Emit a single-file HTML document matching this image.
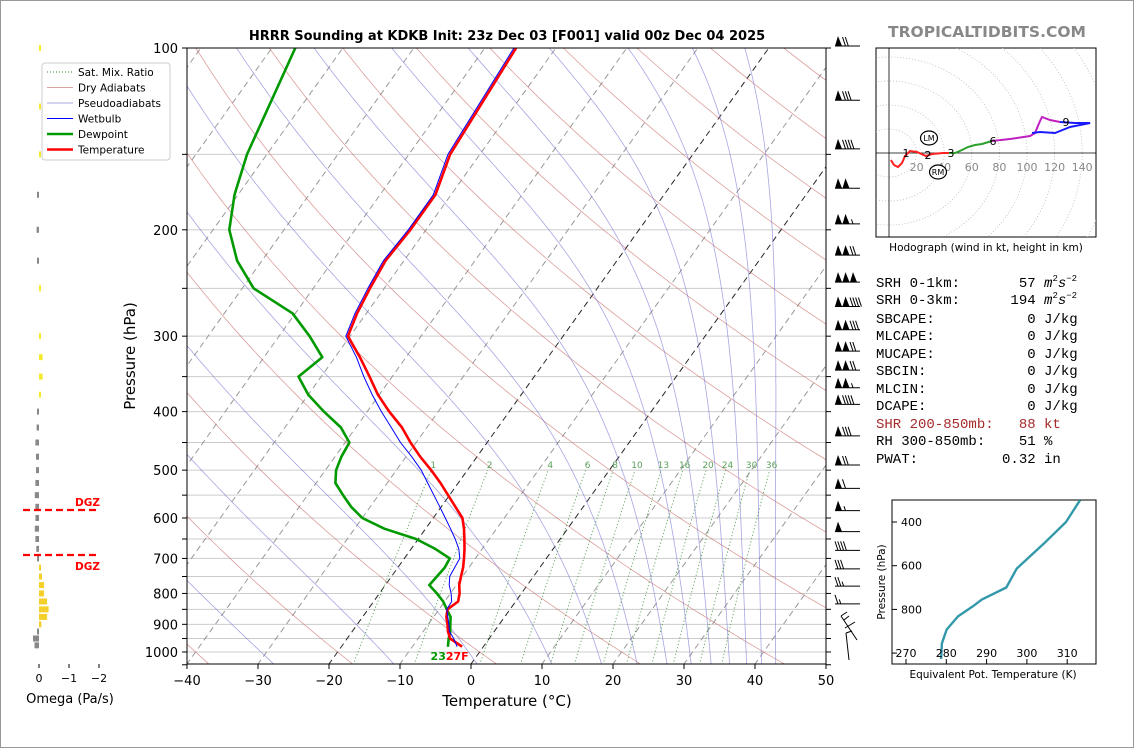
<!DOCTYPE html>
<html><head><meta charset="utf-8"><style>
html,body{margin:0;padding:0;background:#fff}
#wrap{position:relative;width:1134px;height:748px;overflow:hidden}
svg text{font-family:"DejaVu Sans","Liberation Sans",sans-serif}
.mono{font-family:"Liberation Mono",monospace;font-size:14px;white-space:pre}
</style></head><body>
<div id="wrap">
<svg id="svg" width="1134" height="748" xmlns="http://www.w3.org/2000/svg">
<rect x="0.5" y="0.5" width="1133" height="747" fill="#fff" stroke="#999"/>
<defs><clipPath id="mainclip"><rect x="187" y="48" width="639" height="616"/></clipPath>
<clipPath id="hodoclip"><rect x="876" y="48" width="220" height="189"/></clipPath>
<clipPath id="theclip"><rect x="892" y="500" width="204" height="164"/></clipPath></defs>
<g id="bg" clip-path="url(#mainclip)"></g>
<g id="prof" clip-path="url(#mainclip)"></g>
<g id="axes"></g>
<g id="omega"></g>
<g id="barbs"></g>
<g id="hodo"></g>
<g id="thetae"></g>
<text x="507" y="40" text-anchor="middle" font-size="13" font-weight="bold">HRRR Sounding at KDKB Init: 23z Dec 03 [F001] valid 00z Dec 04 2025</text>
<text x="987" y="37" text-anchor="middle" font-size="15.5" font-weight="bold" fill="#888">TROPICALTIDBITS.COM</text>
<g>
<text class="mono" x="876" y="287">SRH 0-1km:       57 <tspan font-style="italic">m</tspan><tspan font-size="9" dy="-6">2</tspan><tspan font-style="italic" dy="6">s</tspan><tspan font-size="9" dy="-6">−2</tspan></text>
<text class="mono" x="876" y="304">SRH 0-3km:      194 <tspan font-style="italic">m</tspan><tspan font-size="9" dy="-6">2</tspan><tspan font-style="italic" dy="6">s</tspan><tspan font-size="9" dy="-6">−2</tspan></text>
<text class="mono" x="876" y="323">SBCAPE:           0 J/kg</text>
<text class="mono" x="876" y="340">MLCAPE:           0 J/kg</text>
<text class="mono" x="876" y="358">MUCAPE:           0 J/kg</text>
<text class="mono" x="876" y="375">SBCIN:            0 J/kg</text>
<text class="mono" x="876" y="393">MLCIN:            0 J/kg</text>
<text class="mono" x="876" y="410">DCAPE:            0 J/kg</text>
<text class="mono" x="876" y="428" fill="#a52a2a">SHR 200-850mb:   88 kt</text>
<text class="mono" x="876" y="445">RH 300-850mb:    51 %</text>
<text class="mono" x="876" y="463">PWAT:          0.32 in</text>
</g>
</svg>
</div>
<script>
// ---- sounding data ----
const levels = [100,150,175,200,225,250,275,300,325,350,375,400,425,450,475,500,525,550,575,600,625,650,675,700,725,750,775,800,825,850,875,900,925,950,980];
const tempC  = [-55.6,-54.2,-52.2,-52.2,-52.6,-52,-51.3,-50.3,-46.5,-43.2,-40.2,-36.9,-33.5,-30.8,-28,-25.1,-22.5,-20.2,-18,-15.9,-14.6,-13.5,-12.5,-11.6,-10.8,-10.2,-9.6,-8.7,-8.1,-8.8,-8.2,-7.3,-6.5,-5.5,-3.0];
const dewpC  = [-86.7,-82.8,-80.5,-77.7,-73.5,-68.4,-60.4,-55.7,-51.8,-53.2,-50,-46.1,-42.1,-39.4,-39.1,-38.5,-37.3,-35,-32.7,-30,-25.8,-20.3,-16.6,-13.6,-13.4,-13.6,-13.8,-11.9,-10.2,-8.9,-7.6,-6.9,-6.2,-5.7,-5.0];
const wetbC  = [-55.9,-54.5,-52.5,-52.5,-52.9,-52.3,-51.6,-50.6,-47,-44,-41,-38,-35,-32.2,-29.2,-26.5,-24.3,-22.2,-20.2,-18.3,-16.5,-14.8,-13.3,-12.2,-12,-11.8,-11,-9.9,-9.0,-8.9,-8.0,-7.1,-6.3,-5.0,-3.7];
// omega (Pa/s)
const omegaP = [100,125,150,175,200,225,250,300,325,350,375,400,425,450,475,500,525,550,575,600,625,650,675,700,725,750,775,800,825,850,875,900,925,950,975];
const omegaV = [-0.03,-0.03,-0.06,0.03,0.08,0.05,-0.03,-0.06,-0.12,-0.12,-0.05,0.02,0.08,0.12,0.1,0.1,0.12,0.14,0.12,0.12,0.14,0.12,0.09,0.04,-0.06,-0.1,-0.17,-0.17,-0.27,-0.32,-0.27,-0.08,0.06,0.2,0.15];
// wind barbs
const barbP = [100,123,148,172,197,222,246,270,295,320,344,368,392,442,494,540,588,637,684,734,784,839];
const barbSpd = [70,80,90,100,105,120,150,140,130,120,120,105,90,80,70,60,55,50,40,30,25,15];
// hodograph (kt)
const hodoRedU = [1.4,3.6,6.5,9.4,11.6,15.2,20.3,26.8,31.2,39.1,43.5];
const hodoRedV = [-5.8,-10,-11.7,-8.3,-2.5,1.7,0.8,-2.5,-0.8,0,0];
const hodoGrnU = [43.5,47.8,52.9,57.2,62.3,67.4,74.6];
const hodoGrnV = [0,0,2.5,5,6.7,7.5,10];
const hodoMagU = [74.6,87.7,102.2,105.8,109.4,110.9,116.7,123.9];
const hodoMagV = [10,11.7,14.2,16.7,26.7,30,27.5,25.8];
const hodoBluU = [123.9,134.8,145.7,131.2,120.3,109.4,103.6];
const hodoBluV = [25.8,25,25,21.7,16.7,17.5,16.7];
// theta-e
const thetaP = [300,400,490,613,700,755,786,832,892,955,1027];
const thetaE = [313.2,309.7,304.7,297.5,294.9,288.8,286.6,282.9,280.1,278.9,278.7];
const xTicks = [-40,-30,-20,-10,0,10,20,30,40,50];
const pLabels = [100,200,300,400,500,600,700,800,900,1000];
const mixRatios = [1,2,4,6,8,10,13,16,20,24,30,36];

const NS="http://www.w3.org/2000/svg";
function mk(tag, attrs, parent){const e=document.createElementNS(NS,tag);for(const k in attrs)e.setAttribute(k,attrs[k]);parent.appendChild(e);return e;}
const X0=187,XS=7.1,YB=664,Y100=48,K=262.3,SK=0.714;
function py(p){return Y100+K*Math.log(p/100);}
function px(T,p){return X0+(T+40)*XS+SK*(YB-py(p));}
function pathFrom(pts){return pts.map((q,i)=>(i?'L':'M')+q[0].toFixed(1)+' '+q[1].toFixed(1)).join(' ');}

const bg=document.getElementById('bg');
for(let p=100;p<=1050;p+=50){const y=py(p);
 const l=mk('line',{x1:187,x2:826,y1:y,y2:y,stroke:'#ccc','stroke-width':1},bg);
 
 }
for(let T=-120;T<=50;T+=10){
 const blk=(T===0||T===-20);
 const l=mk('line',{x1:px(T,1050),y1:py(1050),x2:px(T,100),y2:py(100),stroke:blk?'#000':'#999','stroke-width':1,'stroke-dasharray':'6,4',opacity:blk?0.85:1},bg);
 
 }
for(let th=-80;th<=220;th+=20){const pts=[];for(let p=1050;p>=100;p-=10){pts.push([px((th+273.15)*Math.pow(p/1000,0.286)-273.15,p),py(p)]);}
 const l=mk('path',{d:pathFrom(pts),fill:'none',stroke:'#c0504d','stroke-width':0.8,opacity:0.55},bg);
 
 }
function es(Tc){return 6.112*Math.exp(17.67*Tc/(Tc+243.5));}
const moistStarts=[-50,-27.6,-10.7,1.0,11.5,18.5,23.5,27.7,31.1,33.9,36.5,38.9,41,43];
moistStarts.forEach(t0=>{let T=t0+273.15;const pts=[];
 for(let p=1050;p>=100;p-=2){pts.push([px(T-273.15,p),py(p)]);
  const e=es(T-273.15);const rs=0.622*e/(p-e);
  const d=(287.04*T+2.501e6*rs)/(1005.7+2.501e6*2.501e6*rs*0.622/(287.04*T*T))/p;
  T-=2*d;}
 const l=mk('path',{d:pathFrom(pts),fill:'none',stroke:'#6a6ad0','stroke-width':0.8,opacity:0.6},bg);
 
 });
mixRatios.forEach(w=>{const pts=[];for(let p=1050;p>=500;p-=10){const e=w*p/(622+w);const a=Math.log(e/6.112);const td=243.5*a/(17.67-a);pts.push([px(td,p),py(p)]);}
 const l=mk('path',{d:pathFrom(pts),fill:'none',stroke:'#2e8b2e','stroke-width':0.9,'stroke-dasharray':'1.2,2.2',opacity:0.8},bg);
 
 
 const lp=pts[pts.length-1];
 const t=mk('text',{x:lp[0]+2,y:lp[1]-2,'font-size':9,fill:'#5aa05a','text-anchor':'middle'},bg);t.textContent=w;
 
 });

const prof=document.getElementById('prof');
function profile(arr,color,w,name){const pts=levels.map((p,i)=>[px(arr[i],p),py(p)]);
 const l=mk('path',{d:pathFrom(pts),fill:'none',stroke:color,'stroke-width':w,'stroke-linejoin':'round'},prof);
 
 }
profile(dewpC,'#009900',2.6,'dewpoint-line');
profile(tempC,'#ff0000',2.6,'temperature-line');
profile(wetbC,'#0000ff',1,'wetbulb-line');
{const n=levels.length-1;
 const t1=mk('text',{x:px(dewpC[n],levels[n])-2,y:660,'font-size':11,'font-weight':'bold',fill:'#009900','text-anchor':'end'},prof);t1.textContent='23';
 
 
 const t2=mk('text',{x:px(dewpC[n],levels[n])-2,y:660,'font-size':11,'font-weight':'bold',fill:'#ff0000'},prof);t2.textContent='27F';
 
 }

const ax=document.getElementById('axes');
{const r=mk('rect',{x:187,y:48,width:639,height:616,fill:'none',stroke:'#000','stroke-width':1},ax);
 
 }
xTicks.forEach(T=>{const x=X0+(T+40)*XS;
 const l=mk('line',{x1:x,x2:x,y1:664,y2:669,stroke:'#000'},ax);
 
 
 const t=mk('text',{x:x,y:685,'font-size':13,'text-anchor':'middle'},ax);t.textContent=(T<0?'−':'')+Math.abs(T);
 
 });
for(let p=100;p<=1050;p+=50){const y=py(p);
 const l=mk('line',{x1:182,x2:187,y1:y,y2:y,stroke:'#000'},ax);
 
 
 const l2=mk('line',{x1:826,x2:831,y1:y,y2:y,stroke:'#000'},ax);
 
 }
pLabels.forEach(p=>{const t=mk('text',{x:178,y:py(p)+5,'font-size':13,'text-anchor':'end'},ax);t.textContent=p;
 
 });
{const t=mk('text',{x:507,y:706,'font-size':15,'text-anchor':'middle'},ax);t.textContent='Temperature (°C)';
 
 
 const t2=mk('text',{x:0,y:0,'font-size':15,'text-anchor':'middle',transform:'translate(135,356) rotate(-90)'},ax);t2.textContent='Pressure (hPa)';
 
 }
{const g=mk('g',{},ax);
 
 
 mk('rect',{x:42,y:63,width:128,height:97,rx:3,fill:'#fff',stroke:'#ccc'},g);
 const items=[['Sat. Mix. Ratio','#2e8b2e',1,'1,2'],['Dry Adiabats','#d9a3a2',1,''],['Pseudoadiabats','#a9a9e6',1,''],['Wetbulb','#0000ff',1,''],['Dewpoint','#009900',2.6,''],['Temperature','#ff0000',2.6,'']];
 items.forEach((it,i)=>{const y=72+i*15.5;
  const l=mk('line',{x1:47,x2:73,y1:y,y2:y,stroke:it[1],'stroke-width':it[2],'stroke-dasharray':it[3]},g);
  
  
  const t=mk('text',{x:78,y:y+4,'font-size':10.5},g);t.textContent=it[0];
  
  });}

const om=document.getElementById('omega');
omegaP.forEach((p,i)=>{const v=omegaV[i];const x=39-v*30;const y=py(p);
 const c=v<0?(p>=700?'#f5cf2a':'#f2ea2a'):'#888';
 const w=Math.max(Math.abs(x-39),2);
 const r=mk('rect',{x:v<0?39:39-w,y:y-3,width:w,height:6,fill:c},om);
 
 });
[[0,39],[-1,69],[-2,99]].forEach(a=>{
 const l=mk('line',{x1:a[1],x2:a[1],y1:664,y2:668,stroke:'#000'},om);
 
 
 const t=mk('text',{x:a[1],y:682,'font-size':11,'text-anchor':'middle'},om);t.textContent=a[0]<0?'−'+(-a[0]):'0';
 
 });
{const t=mk('text',{x:70,y:703,'font-size':13,'text-anchor':'middle'},om);t.textContent='Omega (Pa/s)';
 
 
 [[510,506],[555,570]].forEach(d=>{
  const l=mk('line',{x1:23,x2:99,y1:d[0],y2:d[0],stroke:'#ff0000','stroke-width':2.2,'stroke-dasharray':'7,4'},om);
  
  
  const t2=mk('text',{x:100,y:d[1],'font-size':10.5,'font-weight':'bold',fill:'#ff0000','text-anchor':'end'},om);t2.textContent='DGZ';
  
  });}

const bb=document.getElementById('barbs');
barbP.forEach((p,i)=>{const y=py(p)-2;let s=Math.round(barbSpd[i]/5)*5;
 const g=mk('g',{},bb);
 
 
 mk('line',{x1:835,x2:860,y1:y,y2:y,stroke:'#000','stroke-width':1},g);
 let x=835;
 while(s>=50){mk('polygon',{points:`${x},${y} ${x+3},${y-10} ${x+7},${y}`,fill:'#000'},g);x+=7.5;s-=50;}
 while(s>=10){mk('line',{x1:x,y1:y-9,x2:x+3,y2:y,stroke:'#000','stroke-width':1},g);x+=2.8;s-=10;}
 if(s>=5){mk('line',{x1:x+1.5,y1:y-4.5,x2:x+3,y2:y,stroke:'#000','stroke-width':1},g);}
});
{const g=mk('g',{fill:'none',stroke:'#000','stroke-width':1},bb);
 
 
 mk('path',{d:'M841 616 L857 640 M841 616 L847 612 M844 620 L849 616 M845 628 L855 622'},g);
 mk('path',{d:'M846 633 L849 660 M846 633 L852 631'},g);}

const ho=document.getElementById('hodo');
const HX=889,HY=153,HSX=1.38,HSY=1.2;
{const r=mk('rect',{x:876,y:48,width:220,height:189,fill:'#fff',stroke:'#000'},ho);
 
 
 const g=mk('g',{'clip-path':'url(#hodoclip)'},ho);
 
 
 for(let r2=20;r2<=200;r2+=20){const c=mk('ellipse',{cx:HX,cy:HY,rx:r2*HSX,ry:r2*HSY,fill:'none',stroke:'#bbb','stroke-dasharray':'1,2','stroke-width':0.8},g);
  
  }
 mk('line',{x1:876,x2:1096,y1:HY,y2:HY,stroke:'#000','stroke-width':0.8},g);
 mk('line',{x1:HX,x2:HX,y1:48,y2:237,stroke:'#000','stroke-width':0.8},g);
 [20,40,60,80,100,120,140].forEach(v=>{const t=mk('text',{x:HX+v*HSX,y:HY+18,'font-size':11,fill:'#888','text-anchor':'middle'},g);t.textContent=v;
  
  });
 [[hodoRedU,hodoRedV,'#ff2020'],[hodoGrnU,hodoGrnV,'#2ca02c'],[hodoMagU,hodoMagV,'#c020c0'],[hodoBluU,hodoBluV,'#1a1aff']].forEach(s=>{
  const pts=s[0].map((u,i)=>[HX+u*HSX,HY-s[1][i]*HSY]);
  const l=mk('path',{d:pathFrom(pts),fill:'none',stroke:s[2],'stroke-width':2},g);
  
  });
 [['1',906,157],['2',928,159],['3',951,157],['6',993,145],['9',1066,126]].forEach(a=>{const t=mk('text',{x:a[1],y:a[2],'font-size':11,'text-anchor':'middle'},g);t.textContent=a[0];
  
  });
 [['LM',929,138],['RM',938,172]].forEach(a=>{const e=mk('ellipse',{cx:a[1],cy:a[2],rx:8.5,ry:7,fill:'#fff',stroke:'#000','stroke-width':1.2},g);
  
  
  const t=mk('text',{x:a[1],y:a[2]+3,'font-size':8,'text-anchor':'middle'},g);t.textContent=a[0];
  
  });
 const t=mk('text',{x:986,y:251,'font-size':10.5,'text-anchor':'middle'},ho);t.textContent='Hodograph (wind in kt, height in km)';
 
 }

const te=document.getElementById('thetae');
function tx(th){return 906+(th-270)*4.03;}
function ty(p){return 522+(p-400)*0.2185;}
{const r=mk('rect',{x:892,y:500,width:204,height:164,fill:'#fff',stroke:'#000'},te);
 
 
 const g=mk('g',{'clip-path':'url(#theclip)'},te);
 const pts=thetaP.map((p,i)=>[tx(thetaE[i]),ty(p)]);
 const l=mk('path',{d:pathFrom(pts),fill:'none',stroke:'#3399aa','stroke-width':2.4,'stroke-linejoin':'round'},g);
 
 
 [270,280,290,300,310].forEach(v=>{const x=tx(v);
  mk('line',{x1:x,x2:x,y1:664,y2:659,stroke:'#000'},te);
  const t=mk('text',{x:x,y:657,'font-size':11,'text-anchor':'middle'},te);t.textContent=v;
  
  });
 [400,600,800,1000].forEach(p=>{const y=ty(p);
  mk('line',{x1:892,x2:897,y1:y,y2:y,stroke:'#000'},te);
  if(p<1000){const t=mk('text',{x:901,y:y+4,'font-size':11},te);t.textContent=p;
  
  }});
 const t=mk('text',{x:993,y:678,'font-size':10.5,'text-anchor':'middle'},te);t.textContent='Equivalent Pot. Temperature (K)';
 
 
 const t2=mk('text',{x:0,y:0,'font-size':10.5,'text-anchor':'middle',transform:'translate(885,582) rotate(-90)'},te);t2.textContent='Pressure (hPa)';
 
 }
</script>
</body></html>
